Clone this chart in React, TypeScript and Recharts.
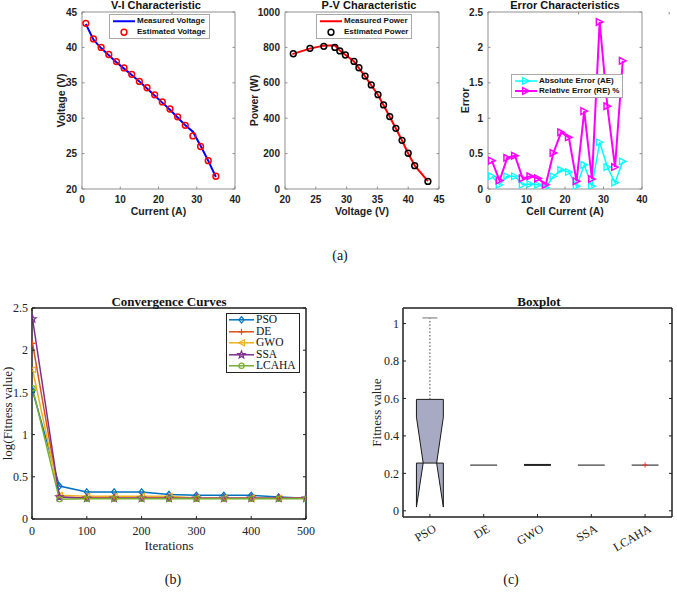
import React from 'react';
import { ComposedChart, Line, Area, XAxis, YAxis, Legend } from 'recharts';

// ---------- (a) V-I, P-V and error data ----------
const current = [1, 3, 5, 7, 9, 11, 13, 15, 17, 19, 21, 23, 25, 27, 29, 31, 33, 35];
const voltageMeasured = [43.3, 41.1, 39.9, 38.9, 37.9, 37.0, 36.1, 35.2, 34.2, 33.2, 32.2, 31.2, 30.1, 29.0, 28.1, 26.1, 24.0, 21.7];
const voltageEstimated = [43.4, 41.2, 40.0, 39.0, 38.0, 37.1, 36.2, 35.2, 34.3, 33.3, 32.3, 31.3, 30.2, 29.0, 27.5, 26.0, 24.0, 21.8];

const pvVoltageMeasured = [43.2, 41.1, 40.0, 39.0, 38.0, 37.0, 36.0, 35.1, 34.0, 33.0, 32.0, 31.2, 29.9, 28.9, 28.1, 26.3, 24.0, 21.2];
const powerMeasured = [44, 130, 201, 274, 342, 408, 473, 531, 586, 636, 683, 720, 756, 782, 812, 810, 793, 762];
const pvVoltageEstimated = [43.2, 41.05, 40.0, 39.0, 38.0, 37.0, 36.0, 35.1, 34.0, 33.0, 32.0, 31.2, 29.8, 28.9, 28.1, 26.3, 24.05, 21.35];
const powerEstimated = [43, 132, 202, 275, 343, 409, 475, 533, 588, 638, 685, 721, 757, 780, 800, 806, 795, 764];

const absError = [0.18, 0.06, 0.18, 0.18, 0.06, 0.07, 0.06, 0.02, 0.18, 0.27, 0.24, 0.04, 0.34, 0.04, 0.66, 0.31, 0.09, 0.39];
const relError = [0.4, 0.12, 0.44, 0.47, 0.15, 0.18, 0.15, 0.06, 0.51, 0.8, 0.73, 0.11, 1.1, 0.14, 2.36, 1.17, 0.31, 1.81];

const viTicksX = [0, 10, 20, 30, 40];
const viTicksY = [20, 25, 30, 35, 40, 45];
const pvTicksX = [20, 25, 30, 35, 40, 45];
const pvTicksY = [0, 200, 400, 600, 800, 1000];
const errTicksX = [0, 10, 20, 30, 40];
const errTicksY = [0, 0.5, 1, 1.5, 2, 2.5];

// ---------- (b) convergence curves ----------
const iterations = [1, 50, 100, 150, 200, 250, 300, 350, 400, 450, 500];
const psoCurve = [1.52, 0.39, 0.32, 0.32, 0.32, 0.29, 0.28, 0.28, 0.28, 0.26, 0.245];
const deCurve = [2.08, 0.26, 0.25, 0.25, 0.25, 0.25, 0.245, 0.245, 0.245, 0.245, 0.245];
const gwoCurve = [1.77, 0.28, 0.27, 0.27, 0.27, 0.27, 0.25, 0.25, 0.25, 0.245, 0.245];
const ssaCurve = [2.37, 0.26, 0.245, 0.245, 0.245, 0.245, 0.245, 0.245, 0.245, 0.245, 0.245];
const lcahaCurve = [1.55, 0.235, 0.24, 0.24, 0.24, 0.24, 0.24, 0.24, 0.24, 0.24, 0.24];
const convTicksX = [0, 100, 200, 300, 400, 500];
const convTicksY = [0, 0.5, 1, 1.5, 2, 2.5];

// ---------- (c) boxplot ----------
const algorithms = ['PSO', 'DE', 'GWO', 'SSA', 'LCAHA'];
const boxQ1 = [0.255, 0.244, 0.245, 0.244, 0.244];
const boxMedian = [0.255, 0.244, 0.245, 0.244, 0.244];
const boxQ3 = [0.595, 0.244, 0.246, 0.244, 0.244];
const notchLow = [0.02, 0.244, 0.245, 0.244, 0.244];
const notchHigh = [0.5, 0.244, 0.246, 0.244, 0.244];
const whiskerHigh = [1.03, 0.244, 0.246, 0.244, 0.244];
const lcahaOutlier = [0.245];
const boxTicksY = [0, 0.2, 0.4, 0.6, 0.8, 1];

const SANS = '"Liberation Sans", Arial, Helvetica, sans-serif';
const SERIF = '"Liberation Serif", "Times New Roman", Times, serif';
const TOP_FRAME = '#8f8f8f';
const BOT_FRAME = '#1f1f1f';
const BOX_FILL = '#a8aac4';

const viData = current.map((x, i) => ({ x, vm: voltageMeasured[i], ve: voltageEstimated[i] }));
const pvMeasData = pvVoltageMeasured.map((x, i) => ({ x, pm: powerMeasured[i] }));
const pvEstData = pvVoltageEstimated.map((x, i) => ({ x, pe: powerEstimated[i] }));
const errData = current.map((x, i) => ({ x, ae: absError[i], re: relError[i] }));
const convData = iterations.map((x, i) => ({
  x, pso: psoCurve[i], de: deCurve[i], gwo: gwoCurve[i], ssa: ssaCurve[i], lcaha: lcahaCurve[i],
}));

const starPoints = (cx: number, cy: number, R: number) =>
  Array.from({ length: 10 }, (_, k) => {
    const a = -Math.PI / 2 + (k * Math.PI) / 5;
    const r = k % 2 === 0 ? R : R * 0.42;
    return `${cx + r * Math.cos(a)},${cy + r * Math.sin(a)}`;
  }).join(' ');

function MarkerShape({ kind, cx, cy, color, s, sw = 1.2 }: any) {
  if (cx == null || cy == null) return null;
  const common = { fill: 'none', stroke: color, strokeWidth: sw };
  switch (kind) {
    case 'circle':
      return <circle cx={cx} cy={cy} r={s} {...common} />;
    case 'right':
      return <polygon points={`${cx + s},${cy} ${cx - s},${cy - s} ${cx - s},${cy + s}`} {...common} />;
    case 'left':
      return <polygon points={`${cx - s},${cy} ${cx + s},${cy - s} ${cx + s},${cy + s}`} {...common} />;
    case 'diamond':
      return <polygon points={`${cx},${cy - s} ${cx + s * 0.8},${cy} ${cx},${cy + s} ${cx - s * 0.8},${cy}`} {...common} />;
    case 'plus':
      return <path d={`M${cx - s},${cy}H${cx + s}M${cx},${cy - s}V${cy + s}`} {...common} />;
    case 'star':
      return <polygon points={starPoints(cx, cy, s)} {...common} />;
    default:
      return null;
  }
}

const dotFn = (kind: string, color: string, s: number, sw = 1.2) => (p: any) => (
  <MarkerShape key={`m-${p.index}`} kind={kind} cx={p.cx} cy={p.cy} color={color} s={s} sw={sw} />
);

// legend rows follow the key order of cfg (recharts would sort them by name)
const makeLegend = (cfg: any, o: any) => (props: any) => {
  const payload = props.payload || [];
  const items = Object.keys(cfg)
    .map((k) => payload.find((p: any) => p.dataKey === k))
    .filter(Boolean);
  return (
    <div
      style={{
        display: 'inline-block', background: '#fff', border: o.border, padding: o.padding,
        fontFamily: o.font, fontSize: o.fontSize, fontWeight: o.weight, color: '#111',
        lineHeight: `${o.rowH}px`, whiteSpace: 'nowrap',
      }}
    >
      {items.map((p: any) => {
        const c = cfg[p.dataKey];
        return (
          <div key={p.dataKey} style={{ display: 'flex', alignItems: 'center', height: o.rowH }}>
            <svg width={o.sampleW} height={o.rowH} style={{ marginRight: o.gap, flex: 'none' }}>
              {c.line && <line x1={0} x2={o.sampleW} y1={o.rowH / 2} y2={o.rowH / 2} stroke={c.line} strokeWidth={c.lw} />}
              {c.marker && <MarkerShape kind={c.marker} cx={o.sampleW / 2} cy={o.rowH / 2} color={c.mColor} s={c.ms} sw={c.msw} />}
            </svg>
            <span style={{ lineHeight: `${o.rowH}px` }}>{p.value}</span>
          </div>
        );
      })}
    </div>
  );
};

const topLegendOpts = { border: '1px solid #a8a8a8', padding: '1px 3px', font: SANS, fontSize: 8, weight: 700, rowH: 10.5, sampleW: 22, gap: 2 };

// top row axis styling
const topTick = { fontSize: 10, fontWeight: 700, fontFamily: SANS, fill: '#1e1e1e' };
const topAxis = {
  type: 'number' as const, allowDataOverflow: true, interval: 0 as const, tickSize: -2.5,
  axisLine: { stroke: TOP_FRAME }, tickLine: { stroke: TOP_FRAME }, tick: topTick,
};
const topXLabel = (value: string) => ({
  value, position: 'insideBottom', offset: 4.5, fill: '#1e1e1e', fontSize: 10.5, fontWeight: 700, fontFamily: SANS,
});
const topYLabel = (value: string, offset: number) => ({
  value, angle: -90, position: 'insideLeft', offset, fill: '#1e1e1e', fontSize: 10.5, fontWeight: 700, fontFamily: SANS,
  style: { textAnchor: 'middle' },
});

// bottom row axis styling
const botTick = { fontSize: 12, fontFamily: SERIF, fill: '#222' };
const botAxis = {
  type: 'number' as const, allowDataOverflow: true, interval: 0 as const, tickSize: -3,
  axisLine: { stroke: BOT_FRAME, strokeWidth: 1.5 }, tickLine: { stroke: BOT_FRAME }, tick: botTick,
};
const botYLabel = (value: string, offset: number) => ({
  value, angle: -90, position: 'insideLeft', offset, fill: '#222', fontSize: 13, fontFamily: SERIF,
  style: { textAnchor: 'middle' },
});

// box-style frame: top and right axes with inward ticks, no labels
const frameAxes = (xDomain: number[], xTicks: number[], yDomain: number[], yTicks: number[], stroke: string, sw: number, tick: number) => [
  <XAxis
    key="xt" xAxisId="top" orientation="top" type="number" domain={xDomain} ticks={xTicks} allowDataOverflow
    height={1} interval={0} tickFormatter={() => ''} tickSize={-tick}
    axisLine={{ stroke, strokeWidth: sw }} tickLine={{ stroke }}
  />,
  <YAxis
    key="yr" yAxisId="right" orientation="right" type="number" domain={yDomain} ticks={yTicks} allowDataOverflow
    width={1} interval={0} tickFormatter={() => ''} tickSize={-tick}
    axisLine={{ stroke, strokeWidth: sw }} tickLine={{ stroke }}
  />,
];

const legendPos = (left: number, top: number) => ({ left, top, width: 'auto', height: 'auto' });

const VIChart = () => (
  <ComposedChart width={215} height={225} data={viData} margin={{ top: 11, right: 9, bottom: 6, left: 22 }}>
    <XAxis dataKey="x" domain={[0, 40]} ticks={viTicksX} height={30} tickMargin={9.5} {...topAxis} label={topXLabel('Current (A)')} />
    <YAxis domain={[20, 45]} ticks={viTicksY} width={30} tickMargin={7.5} {...topAxis} label={topYLabel('Voltage (V)', 9)} />
    {frameAxes([0, 40], viTicksX, [20, 45], viTicksY, TOP_FRAME, 1, 2.5)}
    <Line dataKey="vm" name="Measured Voltage" type="linear" stroke="#0000ff" strokeWidth={2} dot={false} activeDot={false} isAnimationActive={false} />
    <Line dataKey="ve" name="Estimated Voltage" type="linear" stroke="none" dot={dotFn('circle', '#ff0000', 2.9, 1.5)} activeDot={false} isAnimationActive={false} />
    <Legend
      layout="horizontal" verticalAlign="middle" align="center" wrapperStyle={legendPos(79, 14)}
      content={makeLegend({ vm: { line: '#0000ff', lw: 2 }, ve: { marker: 'circle', mColor: '#ff0000', ms: 2.9, msw: 1.5 } }, topLegendOpts)}
    />
  </ComposedChart>
);

const PVChart = () => (
  <ComposedChart width={210} height={225} margin={{ top: 11, right: 15, bottom: 6, left: 10 }}>
    <XAxis dataKey="x" domain={[20, 45]} ticks={pvTicksX} height={30} tickMargin={9.5} {...topAxis} label={topXLabel('Voltage (V)')} />
    <YAxis domain={[0, 1000]} ticks={pvTicksY} width={30} tickMargin={7.5} {...topAxis} label={topYLabel('Power (W)', -1)} />
    {frameAxes([20, 45], pvTicksX, [0, 1000], pvTicksY, TOP_FRAME, 1, 2.5)}
    <Line data={pvMeasData} dataKey="pm" name="Measured Power" type="linear" stroke="#ff0000" strokeWidth={2} dot={false} activeDot={false} isAnimationActive={false} />
    <Line data={pvEstData} dataKey="pe" name="Estimated Power" type="linear" stroke="none" dot={dotFn('circle', '#000', 2.9, 1.5)} activeDot={false} isAnimationActive={false} />
    <Legend
      layout="horizontal" verticalAlign="middle" align="center" wrapperStyle={legendPos(71, 14)}
      content={makeLegend({ pm: { line: '#ff0000', lw: 2 }, pe: { marker: 'circle', mColor: '#000', ms: 2.9, msw: 1.5 } }, topLegendOpts)}
    />
  </ComposedChart>
);

const ErrChart = () => (
  <ComposedChart width={222} height={225} data={errData} margin={{ top: 11, right: 34, bottom: 6, left: 8 }}>
    <XAxis dataKey="x" domain={[0, 40]} ticks={errTicksX} height={30} tickMargin={9.5} {...topAxis} label={topXLabel('Cell Current (A)')} />
    <YAxis domain={[0, 2.5]} ticks={errTicksY} width={25} tickMargin={7.5} {...topAxis} label={topYLabel('Error', 2)} />
    {frameAxes([0, 40], errTicksX, [0, 2.5], errTicksY, TOP_FRAME, 1, 2.5)}
    <Line dataKey="ae" name="Absolute Error (AE)" type="linear" stroke="#00ffff" strokeWidth={1.5} dot={dotFn('right', '#00ffff', 3.3, 1.3)} activeDot={false} isAnimationActive={false} />
    <Line dataKey="re" name="Relative Error (RE) %" type="linear" stroke="#ff00ff" strokeWidth={2} dot={dotFn('right', '#ff00ff', 3.3, 1.5)} activeDot={false} isAnimationActive={false} />
    <Legend
      layout="horizontal" verticalAlign="middle" align="center" wrapperStyle={legendPos(56, 74)}
      content={makeLegend(
        {
          ae: { line: '#00ffff', lw: 1.5, marker: 'right', mColor: '#00ffff', ms: 3.3, msw: 1.3 },
          re: { line: '#ff00ff', lw: 2, marker: 'right', mColor: '#ff00ff', ms: 3.3, msw: 1.5 },
        },
        { ...topLegendOpts, rowH: 10 },
      )}
    />
  </ComposedChart>
);

const convSeries = [
  { key: 'pso', name: 'PSO', color: '#0072bd', marker: 'diamond', ms: 3.2 },
  { key: 'de', name: 'DE', color: '#d95319', marker: 'plus', ms: 3 },
  { key: 'gwo', name: 'GWO', color: '#edb120', marker: 'left', ms: 3 },
  { key: 'ssa', name: 'SSA', color: '#7e2f8e', marker: 'star', ms: 3.8 },
  { key: 'lcaha', name: 'LCAHA', color: '#77ac30', marker: 'circle', ms: 2.6 },
];
const convLegendCfg: any = Object.fromEntries(
  convSeries.map((s) => [s.key, { line: s.color, lw: 1.5, marker: s.marker, mColor: s.color, ms: s.ms, msw: 1.2 }]),
);

const ConvChart = () => (
  <ComposedChart width={320} height={260} data={convData} margin={{ top: 12, right: 13, bottom: 0, left: 2 }}>
    <XAxis
      dataKey="x" domain={[0, 500]} ticks={convTicksX} height={36} tickMargin={10.5} {...botAxis}
      label={{ value: 'Iterations', position: 'insideBottom', offset: 4.7, fill: '#222', fontSize: 13, fontFamily: SERIF }}
    />
    <YAxis domain={[0, 2.5]} ticks={convTicksY} width={30} tickMargin={7} {...botAxis} label={botYLabel('log(Fitness value)', 5)} />
    {frameAxes([0, 500], convTicksX, [0, 2.5], convTicksY, BOT_FRAME, 1.5, 3)}
    {convSeries.map((s) => (
      <Line
        key={s.key} dataKey={s.key} name={s.name} type="linear" stroke={s.color} strokeWidth={1.5}
        dot={dotFn(s.marker, s.color, s.ms, 1.2)} activeDot={false} isAnimationActive={false}
      />
    ))}
    <Legend
      layout="horizontal" verticalAlign="middle" align="center" wrapperStyle={legendPos(226, 18)}
      content={makeLegend(convLegendCfg, {
        border: '1.5px solid #222', padding: '0 3px 0 2px', font: SERIF, fontSize: 11.5, weight: 400, rowH: 11.6, sampleW: 25, gap: 2,
      })}
    />
  </ComposedChart>
);

// boxplot geometry (half widths in x-axis units)
const BOX_HALF = 0.25;
const NOTCH_HALF = 0.125;
const CAP_HALF = 0.14;
const boxes = algorithms.map((name, i) => {
  const x = i + 1;
  const q1 = boxQ1[i], med = boxMedian[i], q3 = boxQ3[i], nLo = notchLow[i], nHi = notchHigh[i], hi = whiskerHigh[i];
  return {
    name, x, open: q3 - q1 > 0.01,
    topFill: [
      { x: x - BOX_HALF, r: [nHi, q3] }, { x: x - NOTCH_HALF, r: [med, q3] },
      { x: x + NOTCH_HALF, r: [med, q3] }, { x: x + BOX_HALF, r: [nHi, q3] },
    ],
    lowFill: [
      { x: x - BOX_HALF, r: [nLo, q1] }, { x: x - NOTCH_HALF, r: [med, q1] },
      { x: x + NOTCH_HALF, r: [med, q1] }, { x: x + BOX_HALF, r: [nLo, q1] },
    ],
    outline: [
      [x - BOX_HALF, q3], [x + BOX_HALF, q3], [x + BOX_HALF, nHi], [x + NOTCH_HALF, med], [x + BOX_HALF, nLo],
      [x + BOX_HALF, q1], [x - BOX_HALF, q1], [x - BOX_HALF, nLo], [x - NOTCH_HALF, med], [x - BOX_HALF, nHi], [x - BOX_HALF, q3],
    ].map(([px, py]) => ({ x: px, y: py })),
    whisker: [{ x, y: q3 }, { x, y: hi }],
    cap: [{ x: x - CAP_HALF, y: hi }, { x: x + CAP_HALF, y: hi }],
    flat: [{ x: x - BOX_HALF, y: med }, { x: x + BOX_HALF, y: med }],
  };
});
const outlierData = lcahaOutlier.map((y) => ({ x: 5, y }));

const BoxTick = (props: any) => {
  const { x, y, payload } = props;
  const label = algorithms[Math.round(payload.value) - 1] ?? '';
  return (
    <g transform={`translate(${x + 7},${y}) rotate(-30)`}>
      <text x={0} y={0} textAnchor="end" fontFamily={SERIF} fontSize={12} fill="#222">
        {label}
      </text>
    </g>
  );
};

const boxDomainY = [-0.033, 1.083];

const BoxChart = () => (
  <ComposedChart width={337} height={260} margin={{ top: 12, right: 4, bottom: 0, left: 33 }}>
    <XAxis dataKey="x" {...botAxis} domain={[0.5, 5.5]} ticks={[1, 2, 3, 4, 5]} height={38} tickMargin={17} tick={<BoxTick />} />
    <YAxis dataKey="y" domain={boxDomainY} ticks={boxTicksY} width={30} tickMargin={7} {...botAxis} label={botYLabel('Fitness value', 3)} />
    {frameAxes([0.5, 5.5], [1, 2, 3, 4, 5], boxDomainY, boxTicksY, BOT_FRAME, 1.5, 3)}
    {boxes.filter((b) => b.open).flatMap((b) => [
      <Area key={`tf-${b.name}`} data={b.topFill} dataKey="r" type="linear" fill={BOX_FILL} fillOpacity={1} stroke="none" dot={false} activeDot={false} isAnimationActive={false} />,
      <Area key={`lf-${b.name}`} data={b.lowFill} dataKey="r" type="linear" fill={BOX_FILL} fillOpacity={1} stroke="none" dot={false} activeDot={false} isAnimationActive={false} />,
      <Line key={`ol-${b.name}`} data={b.outline} dataKey="y" type="linear" stroke="#1a1a1a" strokeWidth={1} dot={false} activeDot={false} isAnimationActive={false} />,
      <Line key={`wh-${b.name}`} data={b.whisker} dataKey="y" type="linear" stroke="#444" strokeWidth={1} strokeDasharray="1.5 2" dot={false} activeDot={false} isAnimationActive={false} />,
      <Line key={`cp-${b.name}`} data={b.cap} dataKey="y" type="linear" stroke="#8a8a8a" strokeWidth={1.2} dot={false} activeDot={false} isAnimationActive={false} />,
    ])}
    {boxes.filter((b) => !b.open).map((b) => (
      <Line
        key={`fl-${b.name}`} data={b.flat} dataKey="y" type="linear" stroke={b.name === 'GWO' ? '#222' : '#555'}
        strokeWidth={b.name === 'GWO' ? 2 : 1.4} dot={false} activeDot={false} isAnimationActive={false}
      />
    ))}
    <Line data={outlierData} dataKey="y" type="linear" stroke="none" dot={dotFn('plus', '#ff3030', 2.6, 1)} activeDot={false} isAnimationActive={false} />
  </ComposedChart>
);

const abs = (left: number, top: number, extra: any = {}) => ({ position: 'absolute' as const, left, top, ...extra });
const titleStyle = (cx: number, top: number, font: string, size: number) =>
  abs(cx - 100, top, { width: 200, textAlign: 'center', fontFamily: font, fontSize: size, fontWeight: 700, lineHeight: `${size}px`, color: '#111', whiteSpace: 'nowrap' });
const capStyle = (cx: number, cy: number) =>
  abs(cx - 20, cy - 8, { width: 40, textAlign: 'center', fontFamily: SERIF, fontSize: 14, lineHeight: '16px', color: '#111' });

export default function App() {
  return (
    <div style={{ position: 'absolute', left: 0, top: 0, width: 677, height: 598, background: '#fff', overflow: 'hidden' }}>
      <div style={abs(30, 0)}><VIChart /></div>
      <div style={abs(245, 0)}><PVChart /></div>
      <div style={abs(455, 0)}><ErrChart /></div>
      <div style={abs(0, 295)}><ConvChart /></div>
      <div style={abs(340, 295)}><BoxChart /></div>

      <div style={titleStyle(156, 0, SANS, 11)}>V-I Characteristic</div>
      <div style={titleStyle(369, 0, SANS, 11)}>P-V Characteristic</div>
      <div style={titleStyle(565, 0, SANS, 11)}>Error Characteristics</div>
      <div style={titleStyle(169, 295, SERIF, 13)}>Convergence Curves</div>
      <div style={titleStyle(539, 295, SERIF, 13)}>Boxplot</div>

      <div style={capStyle(340, 256)}>(a)</div>
      <div style={capStyle(173, 580)}>(b)</div>
      <div style={capStyle(511, 580)}>(c)</div>
    </div>
  );
}
